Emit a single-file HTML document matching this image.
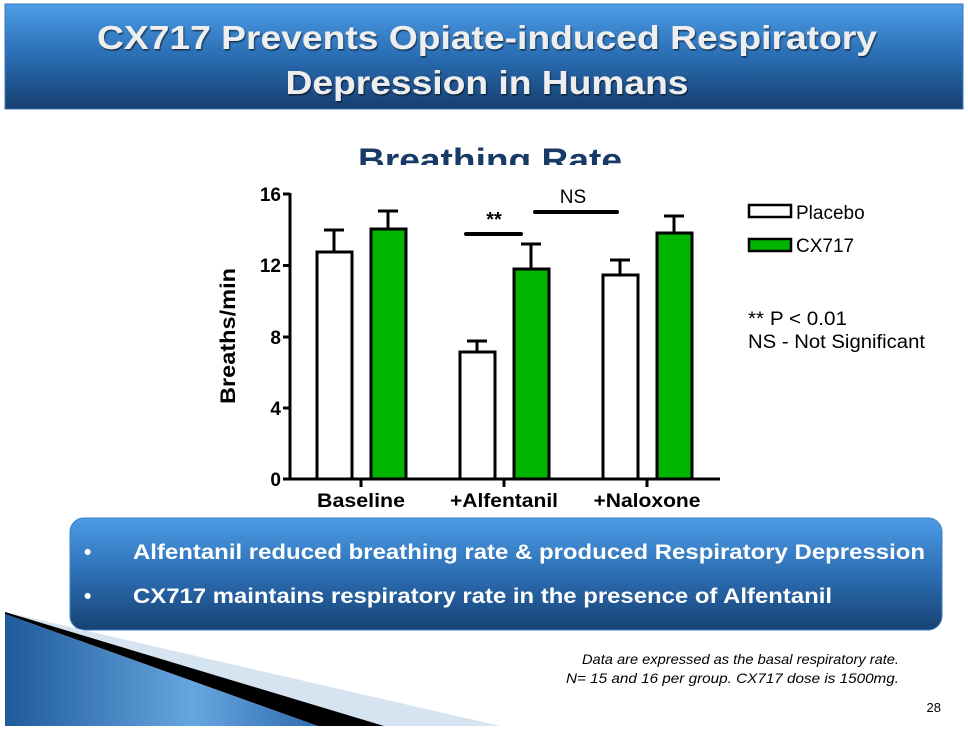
<!DOCTYPE html>
<html><head><meta charset="utf-8"><style>
html,body{margin:0;padding:0;background:#fff;}
body{width:968px;height:730px;overflow:hidden;position:relative;font-family:"Liberation Sans",Arial,sans-serif;}
</style></head><body>
<svg width="968" height="730" viewBox="0 0 968 730" xmlns="http://www.w3.org/2000/svg" style="position:absolute;left:0;top:0">
<defs>
<linearGradient id="hg" x1="0" y1="0" x2="0" y2="1">
<stop offset="0" stop-color="#4c9de8"/><stop offset="0.5" stop-color="#2a6db3"/><stop offset="1" stop-color="#163f70"/>
</linearGradient>
<linearGradient id="bg" x1="0" y1="0" x2="0" y2="1">
<stop offset="0" stop-color="#4b9ce6"/><stop offset="0.55" stop-color="#2a6aae"/><stop offset="1" stop-color="#174273"/>
</linearGradient>
<linearGradient id="tg" x1="0" y1="0" x2="1" y2="0">
<stop offset="0" stop-color="#1f5a9a"/><stop offset="0.6" stop-color="#66a6e0"/><stop offset="1" stop-color="#2e6cae"/>
</linearGradient>
<filter id="sh"><feDropShadow dx="1" dy="1.5" stdDeviation="0.8" flood-color="#000" flood-opacity="0.6"/></filter>
</defs>
<rect x="5" y="4" width="958" height="105" fill="url(#hg)" stroke="#3a78b8" stroke-width="1"/>
<g font-weight="bold" fill="#eeeeee" font-size="33" text-anchor="middle" filter="url(#sh)">
<text x="487" y="49" textLength="780" lengthAdjust="spacingAndGlyphs">CX717 Prevents Opiate-induced Respiratory</text>
<text x="487" y="94" textLength="403" lengthAdjust="spacingAndGlyphs">Depression in Humans</text>
</g>
<clipPath id="ct"><rect x="0" y="120" width="968" height="45"/></clipPath>
<text x="490" y="171" clip-path="url(#ct)" font-size="32" font-weight="bold" fill="#173a66" text-anchor="middle" textLength="264" lengthAdjust="spacingAndGlyphs">Breathing Rate</text>
<g stroke="#000" stroke-width="3" fill="none">
<line x1="290" y1="193" x2="290" y2="480"/>
<line x1="288.5" y1="479" x2="720" y2="479"/>
<line x1="283" y1="194" x2="290" y2="194"/>
<line x1="283" y1="265.5" x2="290" y2="265.5"/>
<line x1="283" y1="337" x2="290" y2="337"/>
<line x1="283" y1="408" x2="290" y2="408"/>
<line x1="283" y1="479" x2="290" y2="479"/>
<line x1="361" y1="479" x2="361" y2="487"/>
<line x1="504" y1="479" x2="504" y2="487"/>
<line x1="647" y1="479" x2="647" y2="487"/>
</g>
<g font-size="19" font-weight="bold" text-anchor="end" fill="#000">
<text x="281" y="201">16</text><text x="281" y="272">12</text><text x="281" y="344">8</text><text x="281" y="415">4</text><text x="281" y="486">0</text>
</g>
<text transform="translate(235,336) rotate(-90)" font-size="21" font-weight="bold" text-anchor="middle" textLength="136" lengthAdjust="spacingAndGlyphs">Breaths/min</text>
<g font-size="19" font-weight="bold" text-anchor="middle">
<text x="361" y="507" textLength="88" lengthAdjust="spacingAndGlyphs">Baseline</text>
<text x="504" y="507" textLength="108" lengthAdjust="spacingAndGlyphs">+Alfentanil</text>
<text x="647" y="507" textLength="107" lengthAdjust="spacingAndGlyphs">+Naloxone</text>
</g>
<g stroke="#000" stroke-width="3">
<line x1="334" y1="252" x2="334" y2="230"/><line x1="324" y1="230" x2="344" y2="230"/>
<line x1="388" y1="229" x2="388" y2="211"/><line x1="378" y1="211" x2="398" y2="211"/>
<line x1="477" y1="352" x2="477" y2="341"/><line x1="467" y1="341" x2="487" y2="341"/>
<line x1="531" y1="269" x2="531" y2="244"/><line x1="521" y1="244" x2="541" y2="244"/>
<line x1="620" y1="275" x2="620" y2="260"/><line x1="610" y1="260" x2="630" y2="260"/>
<line x1="674" y1="233" x2="674" y2="216"/><line x1="664" y1="216" x2="684" y2="216"/>
</g>
<g stroke="#000" stroke-width="3">
<rect x="317" y="252" width="35" height="227" fill="#fff"/>
<rect x="371" y="229" width="35" height="250" fill="#00b400"/>
<rect x="460" y="352" width="35" height="127" fill="#fff"/>
<rect x="514" y="269" width="35" height="210" fill="#00b400"/>
<rect x="603" y="275" width="35" height="204" fill="#fff"/>
<rect x="657" y="233" width="35" height="246" fill="#00b400"/>
</g>
<g stroke="#000" stroke-width="4" stroke-linecap="round">
<line x1="466" y1="234" x2="521" y2="234"/>
<line x1="535" y1="212" x2="617" y2="212"/>
</g>
<text x="494" y="226" font-size="20" font-weight="bold" text-anchor="middle">**</text>
<text x="573" y="203" font-size="19" text-anchor="middle">NS</text>
<rect x="749" y="205" width="42" height="12" fill="#fff" stroke="#000" stroke-width="2.5"/>
<rect x="749" y="239" width="42" height="12" fill="#00b400" stroke="#000" stroke-width="2.5"/>
<g font-size="19" fill="#000">
<text x="796" y="219">Placebo</text>
<text x="796" y="252">CX717</text>
<text x="748" y="325" textLength="99" lengthAdjust="spacingAndGlyphs">** P &lt; 0.01</text>
<text x="748" y="348" textLength="177" lengthAdjust="spacingAndGlyphs">NS - Not  Significant</text>
</g>
<rect x="70" y="518" width="872" height="112" rx="14" fill="url(#bg)" stroke="#3f80c0" stroke-width="1"/>
<g fill="#fff" font-size="21" font-weight="bold">
<text x="84" y="559">•</text>
<text x="133" y="559" textLength="792" lengthAdjust="spacingAndGlyphs">Alfentanil reduced breathing rate &amp; produced Respiratory Depression</text>
<text x="84" y="603">•</text>
<text x="133" y="603" textLength="699" lengthAdjust="spacingAndGlyphs">CX717 maintains respiratory rate in the presence of Alfentanil</text>
</g>
<polygon points="5,612 500,726 5,726" fill="#d6e3f1"/>
<polygon points="5,612 384,726 318,726 5,614" fill="#000"/>
<polygon points="5,614 318,726 5,726" fill="url(#tg)"/>
<g font-size="14" font-style="italic" text-anchor="end" fill="#000">
<text x="899" y="664" textLength="317" lengthAdjust="spacingAndGlyphs">Data are expressed as the basal respiratory rate.</text>
<text x="899" y="683" textLength="333" lengthAdjust="spacingAndGlyphs">N= 15 and 16 per group. CX717 dose is 1500mg.</text>
</g>
<text x="941" y="712" font-size="13" text-anchor="end">28</text>
</svg>
</body></html>
